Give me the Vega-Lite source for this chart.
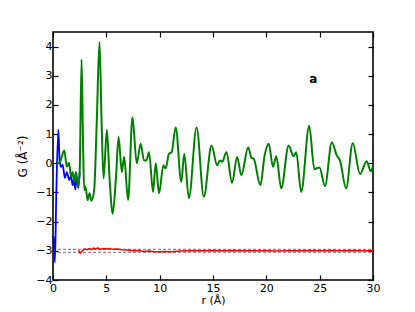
{
  "$schema": "https://vega.github.io/schema/vega-lite/v6.json",
  "width": 320,
  "height": 248,
  "autosize": {"type": "none"},
  "padding": {"left": 53, "top": 32, "right": 42, "bottom": 32},
  "background": "white",
  "config": {
    "view": {"stroke": "black", "strokeWidth": 1.6},
    "font": "DejaVu Sans",
    "axis": {
      "domain": false,
      "grid": false,
      "tickSize": -5,
      "tickColor": "black",
      "tickWidth": 1.2,
      "labelFlush": false,
      "labelOverlap": false,
      "labelFont": "DejaVu Sans",
      "labelFontSize": 11,
      "labelColor": "black",
      "titleFont": "DejaVu Sans",
      "titleFontSize": 11,
      "titleFontWeight": "normal",
      "titleColor": "black"
    }
  },
  "datasets": {
    "blue": [
      {"r": 0.05, "G": -2.5}, {"r": 0.18, "G": -3.4}, {"r": 0.3, "G": -1.2}, {"r": 0.5, "G": 1.15},
      {"r": 0.62, "G": 0.1}, {"r": 0.75, "G": -0.12}, {"r": 0.9, "G": -0.05}, {"r": 1.12, "G": -0.5},
      {"r": 1.3, "G": -0.3}, {"r": 1.52, "G": -0.58}, {"r": 1.68, "G": -0.42}, {"r": 1.84, "G": -0.75},
      {"r": 1.97, "G": -0.55}, {"r": 2.09, "G": -0.9}, {"r": 2.2, "G": -0.45}, {"r": 2.37, "G": -0.85},
      {"r": 2.5, "G": -0.3}
    ],
    "green": [
      {"r": 0.35, "G": 0.05}, {"r": 0.6, "G": 0.0}, {"r": 0.8, "G": 0.2}, {"r": 1.06, "G": 0.44},
      {"r": 1.3, "G": -0.12}, {"r": 1.5, "G": 0.02}, {"r": 1.7, "G": -0.47}, {"r": 1.84, "G": -0.3},
      {"r": 2.0, "G": -0.64}, {"r": 2.15, "G": -0.3}, {"r": 2.37, "G": -0.8}, {"r": 2.5, "G": -0.3},
      {"r": 2.68, "G": 3.56}, {"r": 2.82, "G": 0.6}, {"r": 2.93, "G": -0.92}, {"r": 3.05, "G": -0.8},
      {"r": 3.24, "G": -1.26}, {"r": 3.43, "G": -1.03}, {"r": 3.6, "G": -1.28}, {"r": 3.86, "G": -0.92},
      {"r": 4.1, "G": 1.4}, {"r": 4.36, "G": 4.16}, {"r": 4.55, "G": 1.5}, {"r": 4.74, "G": -0.52},
      {"r": 5.05, "G": 1.15}, {"r": 5.3, "G": -0.5}, {"r": 5.6, "G": -1.73}, {"r": 5.9, "G": -0.5},
      {"r": 6.15, "G": 0.9}, {"r": 6.45, "G": -0.3}, {"r": 6.67, "G": 0.22}, {"r": 7.04, "G": -1.26},
      {"r": 7.45, "G": 1.58}, {"r": 7.85, "G": 0.0}, {"r": 8.22, "G": 0.67}, {"r": 8.53, "G": 0.1},
      {"r": 8.76, "G": 0.1}, {"r": 9.0, "G": 0.38}, {"r": 9.38, "G": -0.98}, {"r": 9.63, "G": 0.0},
      {"r": 9.94, "G": -1.03}, {"r": 10.35, "G": -0.07}, {"r": 10.56, "G": -0.18}, {"r": 10.87, "G": 0.33},
      {"r": 11.12, "G": 0.38}, {"r": 11.5, "G": 1.23}, {"r": 12.03, "G": -0.64}, {"r": 12.3, "G": 0.33},
      {"r": 12.74, "G": -1.2}, {"r": 13.46, "G": 1.23}, {"r": 14.14, "G": -1.15}, {"r": 14.86, "G": 0.61},
      {"r": 15.39, "G": -0.07}, {"r": 15.64, "G": 0.1}, {"r": 15.86, "G": 0.05}, {"r": 16.26, "G": 0.38},
      {"r": 16.79, "G": -0.67}, {"r": 17.26, "G": 0.22}, {"r": 17.66, "G": -0.41}, {"r": 18.3, "G": 0.55},
      {"r": 18.6, "G": 0.19}, {"r": 18.81, "G": 0.16}, {"r": 19.44, "G": -0.75}, {"r": 19.84, "G": 0.27},
      {"r": 20.22, "G": 0.67}, {"r": 20.63, "G": -0.12}, {"r": 20.93, "G": 0.24}, {"r": 21.4, "G": -0.86},
      {"r": 22.09, "G": 0.61}, {"r": 22.55, "G": 0.24}, {"r": 22.8, "G": 0.38}, {"r": 23.27, "G": -0.98},
      {"r": 24.02, "G": 1.29}, {"r": 24.5, "G": -0.2}, {"r": 24.98, "G": -0.14}, {"r": 25.5, "G": -0.78},
      {"r": 26.14, "G": 0.72}, {"r": 26.6, "G": 0.27}, {"r": 26.9, "G": 0.1}, {"r": 27.48, "G": -0.86},
      {"r": 28.1, "G": 0.69}, {"r": 28.79, "G": -0.37}, {"r": 29.4, "G": 0.07}, {"r": 29.8, "G": -0.27},
      {"r": 30.0, "G": -0.1}
    ],
    "red": [
      {"r": 2.4, "G": -2.98}, {"r": 2.55, "G": -3.08}, {"r": 2.7, "G": -3.02}, {"r": 2.85, "G": -2.96},
      {"r": 3.0, "G": -2.94}, {"r": 3.2, "G": -2.96}, {"r": 3.4, "G": -2.92}, {"r": 3.6, "G": -2.95},
      {"r": 3.8, "G": -2.91}, {"r": 4.0, "G": -2.94}, {"r": 4.2, "G": -2.9}, {"r": 4.4, "G": -2.95},
      {"r": 4.6, "G": -2.93}, {"r": 4.8, "G": -2.92}, {"r": 5.0, "G": -2.94}, {"r": 5.3, "G": -2.92},
      {"r": 5.6, "G": -2.95}, {"r": 6.0, "G": -2.94}, {"r": 6.5, "G": -2.96}, {"r": 7.0, "G": -2.97},
      {"r": 7.5, "G": -3.0}, {"r": 8.0, "G": -2.99}, {"r": 8.5, "G": -3.02}, {"r": 9.0, "G": -3.01},
      {"r": 9.5, "G": -3.03}, {"r": 10.0, "G": -3.03}, {"r": 10.5, "G": -3.02}, {"r": 11.0, "G": -3.03},
      {"r": 12.0, "G": -3.01}, {"r": 13.0, "G": -3.0}, {"r": 14.0, "G": -3.0}, {"r": 15.0, "G": -2.99},
      {"r": 16.0, "G": -3.0}, {"r": 17.0, "G": -2.99}, {"r": 18.0, "G": -3.0}, {"r": 19.0, "G": -3.0},
      {"r": 20.0, "G": -3.0}, {"r": 21.0, "G": -3.01}, {"r": 22.0, "G": -3.0}, {"r": 23.0, "G": -3.0},
      {"r": 24.0, "G": -2.99}, {"r": 25.0, "G": -3.0}, {"r": 26.0, "G": -2.99}, {"r": 27.0, "G": -3.0},
      {"r": 28.0, "G": -2.99}, {"r": 29.0, "G": -3.0}, {"r": 30.0, "G": -3.0}
    ],
    "dash": [
      {"r": 0, "G": -2.95, "k": "hi"}, {"r": 30, "G": -2.95, "k": "hi"},
      {"r": 0, "G": -3.05, "k": "lo"}, {"r": 30, "G": -3.05, "k": "lo"}
    ],
    "label": [{"r": 24.4, "G": 2.9, "t": "a"}]
  },
  "layer": [
    {
      "data": {"name": "dash"},
      "mark": {"type": "line", "color": "#8c8c8c", "strokeWidth": 1.2, "strokeDash": [3, 2]},
      "encoding": {
        "x": {"field": "r", "type": "quantitative", "scale": {"domain": [0, 30], "nice": false},
          "axis": {"orient": "top", "labels": false, "title": null, "values": [0, 5, 10, 15, 20, 25, 30]}},
        "y": {"field": "G", "type": "quantitative", "scale": {"domain": [-4, 4.5], "nice": false},
          "axis": {"orient": "right", "labels": false, "title": null, "values": [-4, -3, -2, -1, 0, 1, 2, 3, 4]}},
        "detail": {"field": "k"}
      }
    },
    {
      "data": {"name": "blue"},
      "mark": {"type": "line", "color": "#0000ff", "strokeWidth": 1.8, "interpolate": "monotone"},
      "encoding": {
        "x": {"field": "r", "type": "quantitative", "scale": {"domain": [0, 30], "nice": false},
          "axis": {"orient": "bottom", "title": "r (Å)", "values": [0, 5, 10, 15, 20, 25, 30], "labelPadding": 7, "titlePadding": 1}},
        "y": {"field": "G", "type": "quantitative", "scale": {"domain": [-4, 4.5], "nice": false},
          "axis": {"orient": "left", "title": "G (Å⁻²)", "values": [-4, -3, -2, -1, 0, 1, 2, 3, 4], "labelPadding": 6, "titlePadding": 6, "titleFontSize": 12}}
      }
    },
    {
      "data": {"name": "green"},
      "mark": {"type": "line", "color": "#008000", "strokeWidth": 2, "interpolate": "monotone"},
      "encoding": {
        "x": {"field": "r", "type": "quantitative", "axis": null},
        "y": {"field": "G", "type": "quantitative", "axis": null}
      }
    },
    {
      "data": {"name": "red"},
      "mark": {"type": "line", "color": "#ff0000", "strokeWidth": 1.5},
      "encoding": {
        "x": {"field": "r", "type": "quantitative", "axis": null},
        "y": {"field": "G", "type": "quantitative", "axis": null}
      }
    },
    {
      "data": {"name": "label"},
      "mark": {"type": "text", "fontWeight": "bold", "fontSize": 12, "font": "DejaVu Sans", "color": "black"},
      "encoding": {
        "x": {"field": "r", "type": "quantitative", "axis": null},
        "y": {"field": "G", "type": "quantitative", "axis": null},
        "text": {"field": "t"}
      }
    }
  ],
  "resolve": {"axis": {"x": "independent", "y": "independent"}}
}
